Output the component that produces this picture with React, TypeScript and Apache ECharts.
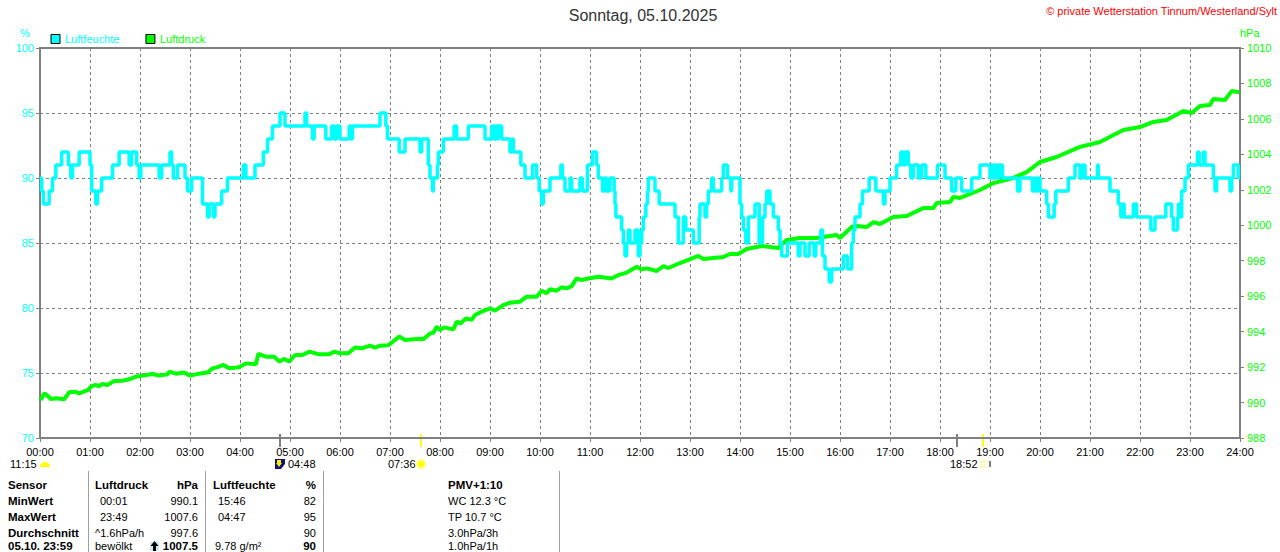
import React, { useEffect, useRef } from "react";
import * as echarts from "echarts";

const humMinutes = [0,2,4,11,15,19,26,34,37,39,47,60,62,67,69,74,87,95,107,110,116,119,121,143,146,156,158,160,165,174,177,182,195,201,203,208,210,218,225,244,247,258,268,273,279,288,294,318,320,327,329,343,350,353,356,360,371,373,375,408,415,417,431,438,456,458,466,468,471,472,477,478,484,497,500,514,534,542,545,547,549,550,554,564,566,568,577,582,591,596,599,602,604,612,625,627,630,636,638,648,651,657,663,668,670,675,678,680,684,689,690,691,698,700,702,704,706,708,714,718,720,722,724,727,729,730,738,743,762,766,772,775,784,791,792,798,800,802,806,808,818,820,825,829,830,840,842,844,847,850,858,863,867,870,872,876,880,886,888,890,897,910,912,918,923,929,931,937,939,942,947,950,964,969,974,976,978,984,987,995,1003,1012,1014,1020,1028,1033,1036,1038,1042,1045,1048,1054,1058,1063,1077,1086,1094,1099,1106,1118,1128,1140,1142,1144,1146,1149,1151,1155,1173,1176,1191,1194,1196,1198,1200,1208,1210,1217,1219,1234,1242,1248,1251,1254,1269,1270,1284,1294,1297,1299,1301,1312,1316,1333,1338,1351,1358,1360,1365,1366,1368,1370,1374,1378,1389,1391,1396,1398,1408,1410,1412,1428,1430,1432,1438,1440];
const humValues = [90,89,88,89,90,91,92,91,90,91,92,91,89,88,89,90,91,92,91,92,91,90,91,90,91,92,91,90,91,90,89,90,88,87,88,87,88,89,90,91,90,91,92,93,94,95,94,95,94,93,94,93,94,93,94,93,94,93,94,95,94,93,92,93,92,93,91,90,89,90,91,92,93,94,93,94,93,94,93,94,93,94,93,92,93,92,91,90,91,90,89,88,89,90,91,90,89,90,89,90,89,91,92,91,90,89,90,89,90,89,88,87,86,85,84,85,86,85,86,84,85,86,87,88,89,90,89,88,87,85,87,86,85,87,88,87,88,89,90,89,90,91,90,89,90,88,87,86,85,87,88,85,87,88,89,88,87,86,85,84,85,84,85,84,85,84,85,86,84,83,82,83,84,83,85,86,87,88,89,90,89,88,89,90,91,92,91,92,91,90,91,90,91,90,91,90,89,90,89,90,91,90,91,90,91,90,91,90,89,90,89,90,89,90,89,88,87,88,89,90,91,90,91,90,91,90,89,88,87,88,87,88,87,86,87,88,87,86,87,88,87,89,90,91,92,91,92,91,90,89,90,89,90,91,90,90];

const pressMinutes = [1,5,9,13,19,29,35,42,47,58,61,66,71,75,81,89,99,107,115,123,135,143,153,155,163,173,180,191,201,207,213,220,227,239,247,259,262,271,281,287,293,299,306,315,323,335,347,353,360,370,378,386,396,402,408,418,431,438,456,460,468,472,476,480,485,496,500,505,511,518,522,530,540,546,556,564,576,584,596,602,608,612,620,626,632,638,644,650,658,670,686,694,704,716,722,728,740,748,754,768,790,796,820,828,838,848,866,886,896,912,932,956,960,974,980,992,1000,1008,1024,1040,1060,1072,1076,1092,1096,1104,1128,1144,1168,1184,1200,1220,1248,1272,1300,1320,1336,1352,1372,1382,1392,1404,1408,1422,1430,1439];
const pressValues = [990.14,990.52,990.39,990.2,990.24,990.18,990.58,990.61,990.52,990.71,990.9,990.99,990.93,991.05,990.99,991.22,991.23,991.31,991.46,991.52,991.61,991.52,991.59,991.74,991.63,991.69,991.52,991.63,991.69,991.93,992,992.12,991.93,991.99,992.21,992.16,992.74,992.59,992.59,992.31,992.46,992.31,992.68,992.68,992.87,992.72,992.72,992.87,992.78,992.78,993.11,993.06,993.21,993.1,993.21,993.23,993.72,993.53,993.6,993.57,993.9,993.94,994.28,994.09,994.24,994.13,994.56,994.47,994.75,994.66,994.94,995.13,995.31,995.18,995.5,995.63,995.69,995.97,995.97,996.31,996.16,996.39,996.31,996.5,996.44,996.57,997,996.91,997,997.1,997,997.19,997.33,997.66,997.51,997.57,997.42,997.7,997.59,997.87,998.27,998.1,998.21,998.38,998.38,998.66,998.83,998.72,999.17,999.28,999.28,999.45,999.28,999.9,999.96,999.9,1000.18,1000.07,1000.47,1000.52,1000.97,1000.97,1001.26,1001.31,1001.6,1001.54,1001.99,1002.38,1002.67,1003,1003.57,1003.85,1004.42,1004.7,1005.37,1005.54,1005.83,1005.94,1006.45,1006.33,1006.73,1006.78,1007.12,1007.07,1007.57,1007.5];

const titleText = "Sonntag, 05.10.2025";
const creditText = "© private Wetterstation Tinnum/Westerland/Sylt";

const tableRowsY = [485, 501, 517, 533, 546];
const sensorCol = ["Sensor", "MinWert", "MaxWert", "Durchschnitt", "05.10. 23:59"];
const pressLeftCol = ["Luftdruck", "  00:01", "  23:49", "^1.6hPa/h", "bewölkt"];
const pressRightCol = ["hPa", "990.1", "1007.6", "997.6", "1007.5"];
const humLeftCol = ["Luftfeuchte", "  15:46", "  04:47", "", " 9.78 g/m²"];
const humRightCol = ["%", "82", "95", "90", "90"];
const infoCol = ["PMV+1:10", "WC 12.3 °C", "TP 10.7 °C", "3.0hPa/3h", "1.0hPa/1h"];

const FONT = "'Liberation Sans', Arial, sans-serif";
const BOLD_SIZE = 11.5;
const hhmm = (m: number) =>
  String(Math.floor(m / 60)).padStart(2, "0") + ":" + String(m % 60).padStart(2, "0");

function txt(text: string, x: number, y: number, o: any = {}) {
  return {
    type: "text",
    silent: true,
    style: {
      text,
      x,
      y,
      fontFamily: FONT,
      fontSize: o.size ?? 11,
      fontWeight: o.bold ? "bold" : "normal",
      fill: o.fill ?? "#000",
      align: o.align ?? "left",
      verticalAlign: "middle",
    },
  };
}
const bar = (x: number, y1: number, y2: number, stroke: string, w = 2) => ({
  type: "line",
  silent: true,
  shape: { x1: x, y1, x2: x, y2 },
  style: { stroke, lineWidth: w },
});

function buildGraphics() {
  const g: any[] = [];
  g.push(txt(titleText, 643, 15, { size: 16, align: "center", fill: "#333" }));
  g.push(txt(creditText, 1277, 11, { fill: "#f00", align: "right" }));

  // sun / moon markers below axis
  g.push(bar(280, 434, 447, "#808080", 2));
  g.push(bar(421, 434, 447, "#ffff00", 2));
  g.push(bar(957, 434, 447, "#808080", 2));
  g.push(bar(983, 434, 447, "#ffff00", 2));
  g.push(txt("11:15", 10, 464));
  g.push(txt("04:48", 288, 464));
  g.push(txt("07:36", 388, 464));
  g.push(txt("18:52", 950, 464));

  // cloud icon
  g.push({ type: "sector", silent: true, shape: { cx: 45, cy: 467, r: 5, r0: 0, startAngle: Math.PI, endAngle: 2 * Math.PI }, style: { fill: "#ffff00" } });
  // moon icon
  g.push({ type: "rect", silent: true, shape: { x: 275, y: 459, width: 10, height: 10 }, style: { fill: "#10107a" } });
  g.push({ type: "polygon", silent: true, shape: { points: [[281, 469], [285, 469], [285, 464]] }, style: { fill: "#fff" } });
  g.push({ type: "polygon", silent: true, shape: { points: [[277, 460], [281, 460], [281, 463], [282, 463], [279, 467], [276, 463], [277, 463]] }, style: { fill: "#ffee00" } });
  // sun icon
  g.push({ type: "circle", silent: true, shape: { cx: 421, cy: 464, r: 5.5 }, style: { fill: "#ffffb0" } });
  g.push({ type: "circle", silent: true, shape: { cx: 421, cy: 464, r: 3.5 }, style: { fill: "#ffff00" } });
  // sunset icon
  g.push({ type: "rect", silent: true, shape: { x: 980.5, y: 461.5, width: 5, height: 5 }, style: { fill: "#fff", stroke: "#ffff80", lineWidth: 1 } });
  g.push(bar(990, 461, 467, "#000", 1));

  // table
  [88, 205, 323, 559].forEach((x) => g.push(bar(x + 0.5, 471, 552, "#a0a0a0", 1)));
  tableRowsY.forEach((y, i) => {
    const head = i === 0;
    const last = i === 4;
    g.push(txt(sensorCol[i], 8, y, { bold: true, size: BOLD_SIZE }));
    g.push(txt(pressLeftCol[i].trim(), pressLeftCol[i].startsWith(" ") ? 100 : 95, y, { bold: head, size: head ? BOLD_SIZE : 11 }));
    g.push(txt(pressRightCol[i], 198, y, { align: "right", bold: head || last, size: head || last ? BOLD_SIZE : 11 }));
    if (humLeftCol[i]) g.push(txt(humLeftCol[i].trim(), head ? 213 : last ? 215 : 218, y, { bold: head, size: head ? BOLD_SIZE : 11 }));
    g.push(txt(humRightCol[i], 316, y, { align: "right", bold: head || last, size: head || last ? BOLD_SIZE : 11 }));
    g.push(txt(infoCol[i], 448, y, { bold: head, size: head ? BOLD_SIZE : 11 }));
  });
  // tendency arrow
  g.push({ type: "rect", silent: true, shape: { x: 150, y: 542, width: 9, height: 9 }, style: { fill: "#cfe8f5" } });
  g.push({ type: "polygon", silent: true, shape: { points: [[154.5, 541], [158.5, 546], [156, 546], [156, 551], [153, 551], [153, 546], [150.5, 546]] }, style: { fill: "#000" } });
  return g;
}

export default function App() {
  const ref = useRef<HTMLDivElement>(null);
  useEffect(() => {
    document.body.style.margin = "0";
    document.body.style.overflow = "hidden";
    const chart = echarts.init(ref.current!, undefined, { renderer: "svg" });
    const axisLine = { show: true, lineStyle: { color: "#808080", width: 2 } };
    chart.setOption({
      animation: false,
      backgroundColor: "#fff",
      textStyle: { fontFamily: FONT },
      grid: { left: 40, top: 48, width: 1200, height: 390, show: true, borderColor: "#808080", borderWidth: 2, backgroundColor: "transparent" },
      legend: {
        left: 50.5,
        top: 33.5,
        itemWidth: 9,
        itemHeight: 9,
        itemGap: 26,
        icon: "rect",
        selectedMode: false,
        padding: 0,
        itemStyle: { borderColor: "#000", borderWidth: 1 },
        textStyle: { fontSize: 11, fontFamily: FONT },
        data: [
          { name: "Luftfeuchte", textStyle: { color: "#00ffff" } },
          { name: "Luftdruck", textStyle: { color: "#00ff00" } },
        ],
      },
      xAxis: {
        type: "value",
        min: 0,
        max: 1440,
        interval: 60,
        axisLine,
        axisTick: { show: true, length: 4, lineStyle: { color: "#808080", width: 1 } },
        axisLabel: { color: "#000", fontSize: 11, margin: 8, fontFamily: FONT, formatter: (v: number) => hhmm(v), showMaxLabel: true, showMinLabel: true },
        splitLine: { show: true, lineStyle: { color: "#808080", type: [3, 3], width: 1 } },
      },
      yAxis: [
        {
          type: "value",
          position: "left",
          min: 70,
          max: 100,
          interval: 5,
          name: "%",
          nameGap: 10,
          nameLocation: "end",
          nameTextStyle: { color: "#00ffff", fontSize: 11, fontFamily: FONT, align: "right", padding: [0, 10, 0, 0] },
          axisLine,
          axisTick: { show: true, length: 4, lineStyle: { color: "#808080", width: 1 } },
          axisLabel: { color: "#00ffff", fontSize: 11, margin: 6, fontFamily: FONT },
          splitLine: { show: true, lineStyle: { color: "#808080", type: [3, 3], width: 1 } },
        },
        {
          type: "value",
          position: "right",
          min: 988,
          max: 1010,
          interval: 2,
          name: "hPa",
          nameGap: 10,
          nameLocation: "end",
          nameTextStyle: { color: "#00ff00", fontSize: 11, fontFamily: FONT, align: "left" },
          axisLine,
          axisTick: { show: true, length: 4, lineStyle: { color: "#808080", width: 1 } },
          axisLabel: { color: "#00ff00", fontSize: 11, margin: 7, fontFamily: FONT, formatter: (v: number) => String(v) },
          splitLine: { show: false },
        },
      ],
      series: [
        {
          name: "Luftdruck",
          type: "line",
          yAxisIndex: 1,
          z: 3,
          symbol: "none",
          itemStyle: { color: "#00ff00" },
          lineStyle: { color: "#00ff00", width: 4 },
          data: pressMinutes.map((m, i) => [m, pressValues[i]]),
        },
        {
          name: "Luftfeuchte",
          type: "line",
          yAxisIndex: 0,
          z: 4,
          symbol: "none",
          step: "end",
          itemStyle: { color: "#00ffff" },
          lineStyle: { color: "#00ffff", width: 3.5 },
          data: humMinutes.map((m, i) => [m, humValues[i]]),
        },
      ],
      graphic: { elements: buildGraphics() },
    });
    return () => chart.dispose();
  }, []);
  return <div ref={ref} style={{ width: 1280, height: 552, overflow: "hidden" }} />;
}
